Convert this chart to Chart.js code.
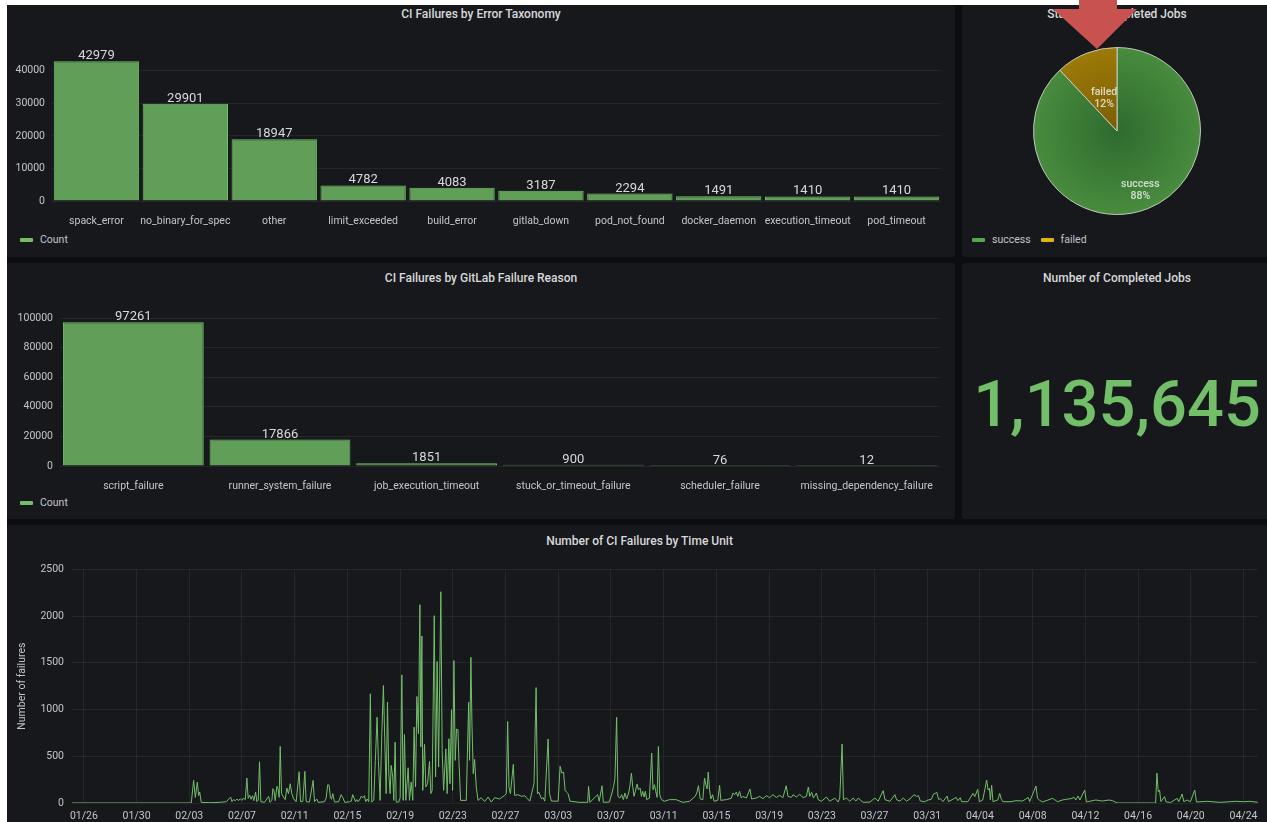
<!DOCTYPE html>
<html>
<head>
<meta charset="utf-8">
<script src="https://cdn.jsdelivr.net/npm/chart.js"></script>
<style>
  html, body { margin: 0; padding: 0; width: 1267px; height: 822px; overflow: hidden; background: #fff; font-family: Roboto, sans-serif; }
  #dash { position: absolute; left: 7px; top: 5px; width: 1270px; height: 830px; background: #0c0d10; }
  .panel { position: absolute; background: #17181c; border-radius: 3px; }
  .title { position: absolute; text-align: center; font-size: 12px; font-weight: 500; color: #d8d9da; line-height: 14px; }
  .legend { position: absolute; font-size: 10.5px; color: #c4c5ca; line-height: 14px; display: flex; align-items: center; white-space: nowrap; }
  .mark { display: inline-block; width: 13px; height: 4px; border-radius: 1px; margin-right: 7px; }
  canvas { position: absolute; }
  #bignum { position: absolute; left: 962px; width: 310px; top: 372px; text-align: center; font-size: 65px; line-height: 65px; font-weight: 500; color: #73bf69; }
  #arrow { position: absolute; left: 0; top: 0; width: 1267px; height: 60px; background: #c85250;
           clip-path: polygon(1079px 0, 1117px 0, 1117px 9px, 1137px 9px, 1097px 49px, 1053px 9px, 1079px 9px); }
</style>
</head>
<body>
<div id="dash"></div>
<div class="panel" style="left:7px;top:5px;width:948px;height:252px"></div>
<div class="panel" style="left:962px;top:5px;width:310px;height:252px"></div>
<div class="panel" style="left:7px;top:263px;width:948px;height:256px"></div>
<div class="panel" style="left:962px;top:263px;width:310px;height:256px"></div>
<div class="panel" style="left:7px;top:525px;width:1265px;height:300px"></div>

<div class="title" style="left:7px;width:948px;top:7px">CI Failures by Error Taxonomy</div>
<div class="title" style="left:962px;width:310px;top:7px">Status of Completed Jobs</div>
<div class="title" style="left:7px;width:948px;top:271px">CI Failures by GitLab Failure Reason</div>
<div class="title" style="left:962px;width:310px;top:271px">Number of Completed Jobs</div>
<div class="title" style="left:7px;width:1265px;top:534px">Number of CI Failures by Time Unit</div>

<canvas id="taxonomy" width="947" height="205" style="left:8px;top:25px"></canvas>
<canvas id="status" width="168" height="168" style="left:1033px;top:47px"></canvas>
<canvas id="reason" width="947" height="205" style="left:8px;top:290px"></canvas>
<canvas id="timeline" width="1265" height="270" style="left:7px;top:555px"></canvas>

<div class="legend" style="left:20px;top:233px"><span class="mark" style="background:#73bf69"></span>Count</div>
<div class="legend" style="left:20px;top:496px"><span class="mark" style="background:#73bf69"></span>Count</div>
<div class="legend" style="left:972px;top:233px"><span class="mark" style="background:#56a64b"></span>success<span class="mark" style="background:#e0b400;margin-left:10px"></span>failed</div>

<div id="bignum">1,135,645</div>
<div id="arrow"></div>

<script>
// CI failures by error taxonomy
const taxonomyLabels = ['spack_error', 'no_binary_for_spec', 'other', 'limit_exceeded', 'build_error',
    'gitlab_down', 'pod_not_found', 'docker_daemon', 'execution_timeout', 'pod_timeout'];
const taxonomyCounts = [42979, 29901, 18947, 4782, 4083, 3187, 2294, 1491, 1410, 1410];
const taxonomyTicks = [0, 10000, 20000, 30000, 40000];

// CI failures by GitLab failure reason
const reasonLabels = ['script_failure', 'runner_system_failure', 'job_execution_timeout',
    'stuck_or_timeout_failure', 'scheduler_failure', 'missing_dependency_failure'];
const reasonCounts = [97261, 17866, 1851, 900, 76, 12];
const reasonTicks = [0, 20000, 40000, 60000, 80000, 100000];

// status of completed jobs (percent)
const statusLabels = ['success', 'failed'];
const statusValues = [88, 12];

// failures over time: [days since 01/26, failures]
const timeTickLabels = ['01/26', '01/30', '02/03', '02/07', '02/11', '02/15', '02/19', '02/23', '02/27',
    '03/03', '03/07', '03/11', '03/15', '03/19', '03/23', '03/27', '03/31', '04/04', '04/08', '04/12',
    '04/16', '04/20', '04/24'];
const failurePoints = [
    [-0.9,0],[8.15,0],[8.33,242],[8.46,60],[8.61,224],[8.71,80],[8.79,117],[8.91,7],[9.55,4],[10.3,7],
    [10.81,14],[11.14,64],[11.24,14],[11.36,36],[11.49,25],[11.62,43],[11.74,25],[11.87,46],[11.99,28],[12.12,53],
    [12.25,36],[12.37,267],[12.47,50],[12.58,85],[12.68,40],[12.8,78],[12.9,25],[13.03,117],[13.13,14],[13.23,30],
    [13.33,441],[13.43,14],[13.71,7],[14.02,71],[14.12,7],[14.27,28],[14.34,153],[14.42,135],[14.52,25],[14.65,178],
    [14.75,142],[14.82,60],[14.9,605],[15.0,100],[15.15,64],[15.28,36],[15.4,160],[15.53,100],[15.66,206],[15.78,100],
    [15.91,46],[16.11,14],[16.34,335],[16.44,14],[16.62,18],[16.77,338],[16.87,14],[17.12,10],[17.4,242],[17.5,14],
    [17.68,43],[17.78,7],[18.26,14],[18.38,50],[18.51,196],[18.61,189],[18.71,57],[18.79,40],[18.89,100],[19.02,10],
    [19.34,14],[19.52,89],[19.65,57],[19.8,7],[20.15,14],[20.3,21],[20.4,89],[20.48,64],[20.61,14],[20.71,36],
    [20.81,14],[20.96,43],[21.06,75],[21.16,57],[21.29,78],[21.39,14],[21.5,43],[21.62,14],[21.74,1168],[21.85,10],
    [22.0,30],[22.12,456],[22.25,918],[22.35,456],[22.48,28],[22.61,740],[22.73,1257],[22.83,705],[22.94,100],[23.04,1079],
    [23.14,313],[23.24,100],[23.32,402],[23.44,278],[23.52,28],[23.62,651],[23.7,10],[23.9,10],[24.0,57],[24.13,1370],
    [24.23,28],[24.33,733],[24.43,28],[24.61,377],[24.71,28],[24.84,224],[24.96,28],[25.06,811],[25.17,171],[25.27,1139],
    [25.39,740],[25.5,2121],[25.57,600],[25.65,1787],[25.72,135],[25.85,627],[25.95,171],[26.08,206],[26.23,445],[26.33,100],
    [26.43,135],[26.59,2004],[26.69,278],[26.81,1513],[26.92,384],[27.09,2260],[27.19,562],[27.3,135],[27.47,580],[27.57,100],
    [27.7,687],[27.78,206],[27.9,997],[27.98,135],[28.08,1524],[28.18,456],[28.28,790],[28.39,783],[28.46,456],[28.59,28],
    [29.02,28],[29.2,1079],[29.27,456],[29.37,1559],[29.45,847],[29.55,313],[29.65,466],[29.78,171],[29.91,28],[30.16,57],
    [30.41,15],[30.67,64],[30.92,10],[31.17,57],[31.55,43],[31.93,82],[32.06,100],[32.16,872],[32.26,171],[32.37,100],
    [32.59,413],[32.69,82],[32.95,89],[33.2,71],[33.46,78],[33.58,57],[33.84,20],[34.16,206],[34.32,1235],[34.42,100],
    [34.52,117],[34.72,46],[34.85,57],[34.98,20],[35.23,684],[35.33,100],[35.48,20],[35.99,20],[36.14,392],[36.27,320],
    [36.4,331],[36.52,135],[36.62,117],[36.75,100],[36.88,20],[37.59,7],[38.23,7],[38.3,178],[38.4,7],[38.99,89],
    [39.11,18],[39.32,185],[39.42,7],[39.87,10],[40.08,107],[40.2,178],[40.3,260],[40.43,918],[40.53,71],[40.68,53],
    [40.81,89],[40.94,36],[41.06,107],[41.19,43],[41.34,107],[41.44,185],[41.55,320],[41.65,178],[41.75,71],[41.85,125],
    [41.98,203],[42.08,142],[42.21,160],[42.31,71],[42.41,125],[42.51,64],[42.61,125],[42.71,36],[42.92,53],[43.09,534],
    [43.19,142],[43.3,196],[43.4,125],[43.5,60],[43.6,605],[43.7,89],[43.83,36],[44.06,18],[44.44,36],[44.94,36],
    [45.45,7],[45.96,18],[46.39,71],[46.51,107],[46.64,185],[46.77,43],[46.97,36],[47.1,267],[47.2,196],[47.3,150],
    [47.38,331],[47.48,142],[47.58,43],[47.71,89],[47.83,18],[48.11,30],[48.24,189],[48.34,28],[48.75,36],[49.13,50],
    [49.25,107],[49.38,89],[49.51,117],[49.63,71],[49.76,125],[49.89,53],[50.01,71],[50.27,53],[50.55,150],[50.67,43],
    [51.03,53],[51.28,71],[51.53,46],[51.79,78],[52.04,57],[52.29,89],[52.55,60],[52.8,82],[53.05,57],[53.3,185],
    [53.43,71],[53.69,60],[53.82,89],[54.07,64],[54.32,93],[54.58,57],[54.83,71],[54.98,171],[55.08,71],[55.23,114],
    [55.36,53],[55.59,107],[55.72,36],[55.97,18],[56.35,64],[56.6,18],[56.98,53],[57.24,10],[57.36,53],[57.54,630],
    [57.64,36],[57.87,53],[58.12,18],[58.38,53],[58.58,20],[58.76,53],[59.14,7],[59.65,10],[60.03,53],[60.28,20],
    [60.66,132],[60.79,36],[61.17,18],[61.55,89],[61.67,36],[61.93,20],[62.18,53],[62.43,20],[62.69,43],[62.99,89],
    [63.19,71],[63.34,78],[63.47,21],[63.8,14],[64.05,32],[64.3,39],[64.48,96],[64.61,103],[64.73,114],[64.86,39],
    [65.01,46],[65.19,14],[65.51,75],[65.61,14],[66.07,50],[66.19,60],[66.32,25],[66.5,57],[66.62,14],[67.08,14],
    [67.48,103],[67.61,68],[67.83,146],[67.96,14],[68.21,32],[68.39,157],[68.51,246],[68.62,139],[68.72,157],[68.79,32],
    [68.89,189],[68.99,14],[69.35,32],[69.5,103],[69.6,50],[69.73,14],[70.36,14],[70.73,25],[71.24,21],[71.67,60],
    [71.77,14],[72.25,182],[72.37,50],[72.5,32],[72.75,11],[73.51,50],[73.63,39],[73.89,14],[74.26,32],[74.52,39],
    [74.9,46],[75.15,60],[75.27,32],[75.45,75],[75.58,32],[75.95,139],[76.08,11],[76.41,21],[76.79,32],[77.29,21],
    [77.8,32],[78.05,25],[78.43,0],[81.33,0],[81.43,320],[81.53,121],[81.63,139],[81.73,14],[82.01,68],[82.11,14],
    [82.46,4],[82.97,50],[83.09,14],[83.34,96],[83.47,14],[83.72,32],[83.97,14],[84.3,139],[84.43,11],[85.24,18],
    [86.24,7],[87.38,18],[88.01,14],[88.51,18],[89.09,7]
];

const GREEN = '#73bf69';
const BAR_FILL = '#619e57';
const TICK_COLOR = '#c4c5ca';
const GRID_COLOR = 'rgba(204,204,220,0.08)';

Chart.defaults.font.family = 'Roboto, sans-serif';
Chart.defaults.font.size = 10.5;
Chart.defaults.color = TICK_COLOR;
Chart.defaults.animation = false;

// numbers above each bar
const valueLabels = {
    id: 'valueLabels',
    afterDatasetsDraw(chart) {
        const { ctx } = chart;
        const values = chart.data.datasets[0].data;
        ctx.save();
        ctx.font = '13px Roboto, sans-serif';
        ctx.fillStyle = '#d8d9da';
        ctx.textAlign = 'center';
        ctx.textBaseline = 'alphabetic';
        chart.getDatasetMeta(0).data.forEach((bar, i) => {
            ctx.fillText(String(values[i]), bar.x, bar.y - 2);
        });
        ctx.restore();
    }
};

function barChart(id, labels, counts, ticks, max, yWidth, padRight) {
    new Chart(document.getElementById(id), {
        type: 'bar',
        data: {
            labels,
            datasets: [{
                label: 'Count',
                data: counts,
                backgroundColor: BAR_FILL,
                borderColor: GREEN,
                borderWidth: 1,
                barPercentage: 0.96,
                categoryPercentage: 1
            }]
        },
        options: {
            responsive: false,
            layout: { padding: { top: 10, right: padRight, left: 0, bottom: 0 } },
            plugins: { legend: { display: false }, tooltip: { enabled: false } },
            scales: {
                x: {
                    grid: { display: false },
                    border: { display: false },
                    ticks: { padding: 6, maxRotation: 0, autoSkip: false },
                    afterFit: (s) => { s.height = 29; }
                },
                y: {
                    min: 0,
                    max,
                    grid: { color: GRID_COLOR, drawTicks: false },
                    border: { display: false },
                    ticks: { padding: 7, callback: (v) => String(v) },
                    afterBuildTicks: (s) => { s.ticks = ticks.map(v => ({ value: v })); },
                    afterFit: (s) => { s.width = yWidth; }
                }
            }
        },
        plugins: [valueLabels]
    });
}

barChart('taxonomy', taxonomyLabels, taxonomyCounts, taxonomyTicks, 50000, 44, 14);
barChart('reason', reasonLabels, reasonCounts, reasonTicks, 110000, 52, 15);

// pie with label inside each slice
const sliceLabels = {
    id: 'sliceLabels',
    afterDatasetsDraw(chart) {
        const { ctx } = chart;
        const values = chart.data.datasets[0].data;
        const total = values.reduce((a, b) => a + b, 0);
        const radius = [0.76, 0.42];
        ctx.save();
        ctx.font = '500 10.5px Roboto, sans-serif';
        ctx.fillStyle = 'rgba(235,235,235,0.85)';
        ctx.textAlign = 'center';
        ctx.textBaseline = 'middle';
        chart.getDatasetMeta(0).data.forEach((arc, i) => {
            const mid = (arc.startAngle + arc.endAngle) / 2;
            const r = arc.outerRadius * radius[i];
            const x = arc.x + Math.cos(mid) * r;
            const y = arc.y + Math.sin(mid) * r;
            ctx.fillText(chart.data.labels[i], x, y - 6);
            ctx.fillText(Math.round(values[i] / total * 100) + '%', x, y + 6);
        });
        ctx.restore();
    }
};

const sliceGradients = [['#2e6a2e', '#488c3e'], ['#7a5d02', '#9c7a07']];
new Chart(document.getElementById('status'), {
    type: 'pie',
    data: {
        labels: statusLabels,
        datasets: [{
            data: statusValues,
            backgroundColor: (c) => {
                const area = c.chart.chartArea;
                if (!area) return sliceGradients[c.dataIndex][1];
                const cx = (area.left + area.right) / 2, cy = (area.top + area.bottom) / 2;
                const g = c.chart.ctx.createRadialGradient(cx, cy, 0, cx, cy, 84);
                g.addColorStop(0, sliceGradients[c.dataIndex][0]);
                g.addColorStop(1, sliceGradients[c.dataIndex][1]);
                return g;
            },
            borderColor: 'rgba(215,215,215,0.85)',
            borderWidth: 1
        }]
    },
    options: {
        responsive: false,
        plugins: { legend: { display: false }, tooltip: { enabled: false } }
    },
    plugins: [sliceLabels]
});

// failures over time
new Chart(document.getElementById('timeline'), {
    type: 'line',
    data: {
        datasets: [{
            label: 'Failures',
            data: failurePoints.map(([d, n]) => ({ x: d, y: n })),
            borderColor: GREEN,
            borderWidth: 1,
            pointRadius: 0,
            tension: 0,
            fill: false
        }]
    },
    options: {
        responsive: false,
        layout: { padding: { top: 14, right: 14, left: 0, bottom: 0 } },
        plugins: { legend: { display: false }, tooltip: { enabled: false } },
        scales: {
            x: {
                type: 'linear',
                min: -0.9,
                max: 89.1,
                grid: { color: GRID_COLOR, drawTicks: false },
                border: { display: false },
                ticks: {
                    padding: 7, maxRotation: 0, autoSkip: false,
                    callback: (v) => timeTickLabels[Math.round(v / 4)]
                },
                afterBuildTicks: (s) => { s.ticks = timeTickLabels.map((_, i) => ({ value: i * 4 })); },
                afterFit: (s) => { s.height = 22; }
            },
            y: {
                min: 0,
                max: 2500,
                grid: { color: GRID_COLOR, drawTicks: false },
                border: { display: false },
                ticks: { stepSize: 500, padding: 8, callback: (v) => String(v) },
                title: { display: true, text: 'Number of failures', color: TICK_COLOR, padding: { top: 9, bottom: 0 } },
                afterFit: (s) => { s.width = 65; }
            }
        }
    }
});
</script>
</body>
</html>
